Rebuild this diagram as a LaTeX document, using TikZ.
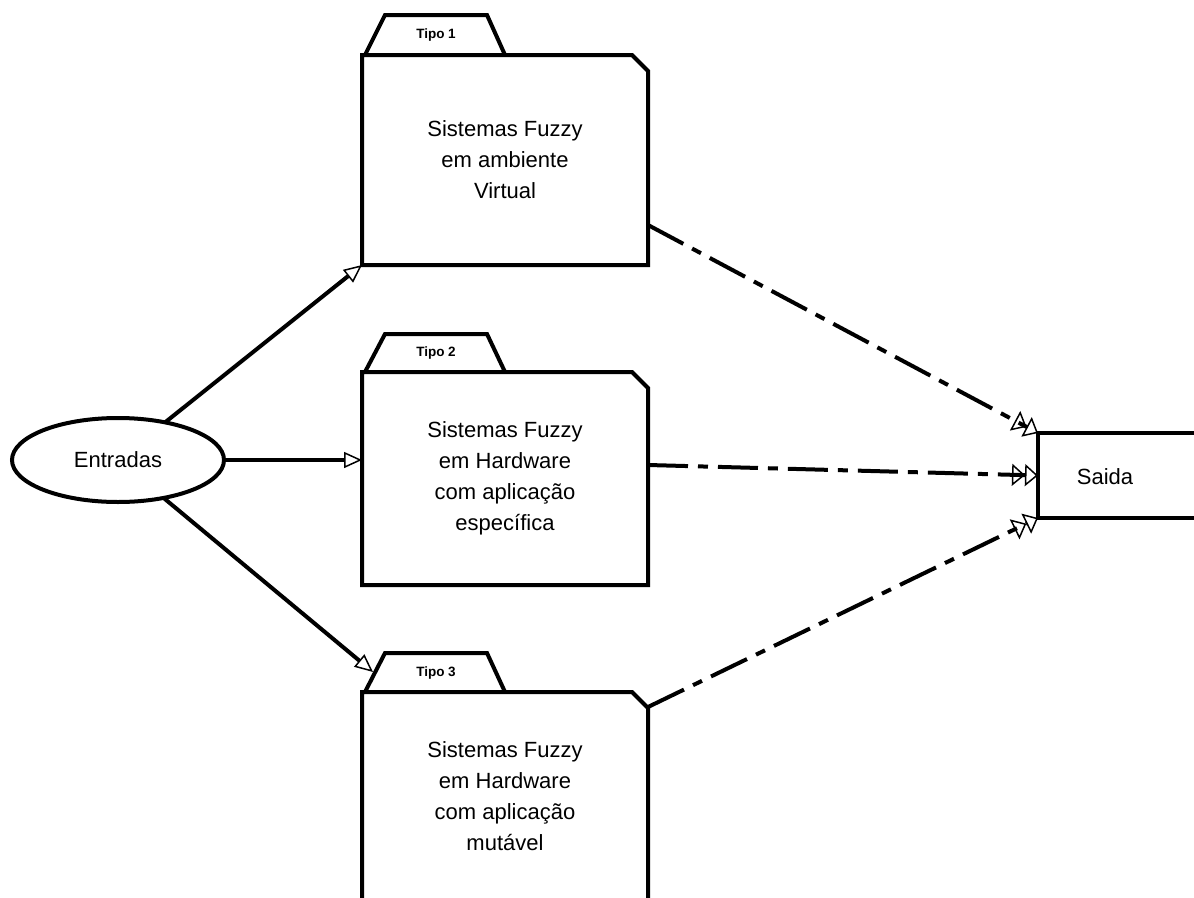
\documentclass[tikz,border=0pt]{standalone}
\usepackage{fontspec}
\setmainfont{Liberation Sans}
\usetikzlibrary{arrows.meta,calc,shapes.geometric,shapes.misc}

\begin{document}
\begin{tikzpicture}[x=1pt,y=-1pt,
  folderbody/.style={chamfered rectangle, chamfered rectangle corners=north east,
    chamfered rectangle xsep=8pt, chamfered rectangle ysep=8pt,
    draw, line width=4pt, minimum width=286pt, inner sep=0pt, outer sep=0pt,
    align=center, font=\fontsize{22}{31}\selectfont},
  foldertab/.style={line width=4pt, line join=miter},
  tablabel/.style={font=\bfseries\fontsize{13.5}{15}\selectfont, inner sep=0pt},
  plainlabel/.style={font=\fontsize{22}{26}\selectfont, inner sep=0pt},
  feed/.style={line width=4pt, -{Triangle[open, length=18pt, width=16pt, line width=1.5pt]}},
  result/.style={line width=4pt, dash pattern=on 40pt off 10pt on 10pt off 10pt,
    -{Triangle[open, length=13pt, width=22pt, line width=1.5pt]Triangle[open, length=13pt, width=22pt, line width=1.5pt]}}
]
\useasboundingbox (0,0) rectangle (1194,897);
\clip (0,0) rectangle (1194,897);
\fill[white] (0,0) rectangle (1194,897);

% inputs
\node[ellipse, draw, line width=4pt, minimum width=212pt, minimum height=84pt,
      inner sep=0pt, outer sep=0pt, font=\fontsize{22}{26}\selectfont] (ent) at (118,460) {Entradas};

% the three folders
\node[folderbody, minimum height=210pt] (f1) at (505,160)
  {Sistemas Fuzzy\\em ambiente\\Virtual};
\draw[foldertab] ($(f1.north west)+(3,0)$) -- ++(20,-40) -- ++(102,0) -- ++(18,40);
\node[tablabel] (t1) at ($(f1.north west)+(74,-20)$) {Tipo 1};

\node[folderbody, minimum height=213pt] (f2) at (505,478.5)
  {Sistemas Fuzzy\\em Hardware\\com aplicação\\específica};
\draw[foldertab] ($(f2.north west)+(3,0)$) -- ++(20,-38) -- ++(102,0) -- ++(18,38);
\node[tablabel] (t2) at ($(f2.north west)+(74,-19)$) {Tipo 2};

\node[folderbody, minimum height=208pt] (f3) at (505,796)
  {Sistemas Fuzzy\\em Hardware\\com aplicação\\mutável};
\draw[foldertab] ($(f3.north west)+(3,0)$) -- ++(20,-39) -- ++(102,0) -- ++(18,39);
\node[tablabel] (t3) at ($(f3.north west)+(74,-19)$) {Tipo 3};

% output
\node[draw, line width=4pt, minimum width=200pt, minimum height=85pt,
      inner sep=0pt, outer sep=0pt, anchor=north west] (saida) at (1038,433) {};
\node[plainlabel] (saidatext) at (1105,477) {Saida};

% connector end points
\coordinate (in3) at ($(f3.north west)+(11,-20)$);
\coordinate (o1) at ($(f1.south east)+(0,-40)$);
\coordinate (o2) at ($(f2.south east)+(0,-120)$);
\coordinate (o3) at ($(f3.south east)+(0,-193)$);

% connectors
\draw[feed] (ent) -- (f1.south west);
\draw[feed] (ent.east) -- (f2.west |- ent.east);
\draw[feed] (ent) -- (in3);

\draw[result] (o1) -- (saida.north west);
\draw[result] (o2) -- (saida.west);
\draw[result] (o3) -- (saida.south west);
\end{tikzpicture}
\end{document}
